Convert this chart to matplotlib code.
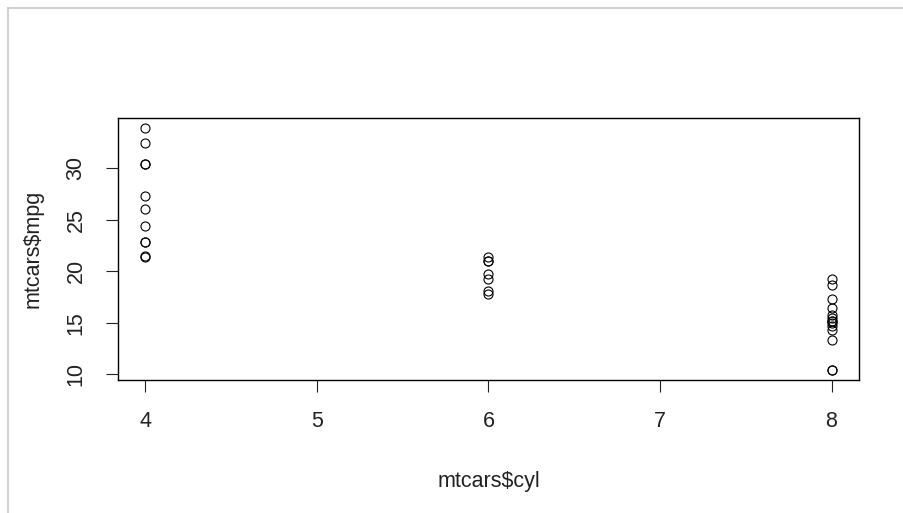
import matplotlib.pyplot as plt
from matplotlib.lines import Line2D

plt.rcParams['font.family'] = ['Liberation Sans', 'DejaVu Sans']

# mtcars: cyl and mpg
cyl = [6, 6, 4, 6, 8, 6, 8, 4, 4, 6, 6, 8, 8, 8, 8, 8,
       8, 4, 4, 4, 4, 8, 8, 8, 8, 4, 4, 4, 8, 6, 8, 4]
mpg = [21.0, 21.0, 22.8, 21.4, 18.7, 18.1, 14.3, 24.4, 22.8, 19.2, 17.8,
       16.4, 17.3, 15.2, 10.4, 10.4, 14.7, 32.4, 30.4, 33.9, 21.5, 15.5,
       15.2, 13.3, 19.2, 27.3, 26.0, 30.4, 15.8, 19.7, 15.0, 21.4]
x_ticks = [4, 5, 6, 7, 8]
y_ticks = [10, 15, 20, 25, 30]

fig = plt.figure(figsize=(9.04, 5.13), dpi=100)
ax = fig.add_axes([0.1305, 0.2593, 0.8197, 0.5107])

ax.plot(cyl, mpg, linestyle='none', marker='o', markersize=6.5,
        markerfacecolor='none', markeredgecolor='black', markeredgewidth=0.8)

# R-style 4% padding around the data range
xr = max(cyl) - min(cyl)
yr = max(mpg) - min(mpg)
ax.set_xlim(min(cyl) - 0.04 * xr, max(cyl) + 0.04 * xr)
ax.set_ylim(min(mpg) - 0.04 * yr, max(mpg) + 0.04 * yr)

ax.set_xticks(x_ticks)
ax.set_yticks(y_ticks)
ax.set_yticklabels([str(v) for v in y_ticks], rotation=90, va='center')
ax.tick_params(axis='both', length=8.6, width=0.8, color='#222222',
               labelsize=15.5, labelcolor='#222222')
ax.tick_params(axis='x', pad=14)
ax.tick_params(axis='y', pad=14)
for s in ax.spines.values():
    s.set_linewidth(1.0)
    s.set_color('black')

ax.set_xlabel('mtcars$cyl', fontsize=15.5, color='#222222', labelpad=28)
ax.set_ylabel('mtcars$mpg', fontsize=15.5, color='#222222', labelpad=16)

# screenshot frame
fig.add_artist(Line2D([8 / 904, 8 / 904], [0, 1 - 8 / 513], transform=fig.transFigure,
                      color='#c8c8c8', linewidth=1.2))
fig.add_artist(Line2D([8 / 904, 1], [1 - 8 / 513, 1 - 8 / 513], transform=fig.transFigure,
                      color='#c8c8c8', linewidth=1.2))

fig.savefig('out.png', dpi=100)
